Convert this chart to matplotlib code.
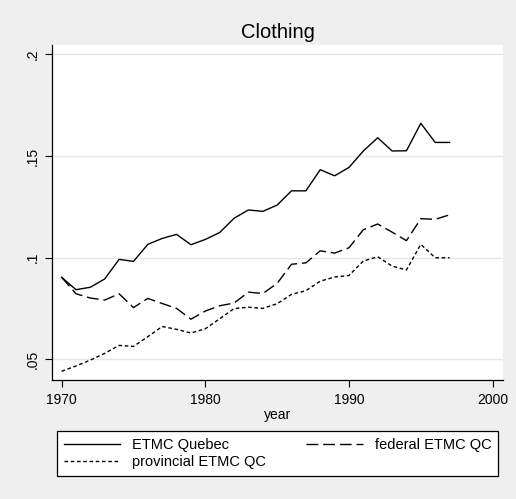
import numpy as np
import matplotlib.pyplot as plt

plt.rcParams['font.family'] = ['Liberation Sans', 'DejaVu Sans']

# annual series, 1970-1997
years = np.arange(1970, 1998)
etmc_quebec = [0.0904, 0.0843, 0.0855, 0.0896, 0.0992, 0.0982, 0.1066, 0.1095,
               0.1115, 0.1064, 0.1090, 0.1124, 0.1194, 0.1235, 0.1228, 0.1259,
               0.1329, 0.1329, 0.1433, 0.1403, 0.1444, 0.1525, 0.1590, 0.1525,
               0.1526, 0.1661, 0.1567, 0.1567]
federal_qc = [0.0904, 0.0823, 0.0802, 0.0792, 0.0823, 0.0755, 0.0800, 0.0775,
              0.0751, 0.0698, 0.0738, 0.0764, 0.0777, 0.0831, 0.0824, 0.0874,
              0.0968, 0.0975, 0.1034, 0.1023, 0.1049, 0.1138, 0.1166, 0.1126,
              0.1084, 0.1192, 0.1189, 0.1211]
provincial_qc = [0.0442, 0.0468, 0.0497, 0.0530, 0.0569, 0.0564, 0.0612, 0.0662,
                 0.0648, 0.0630, 0.0651, 0.0700, 0.0750, 0.0757, 0.0751, 0.0774,
                 0.0820, 0.0838, 0.0885, 0.0905, 0.0913, 0.0984, 0.1005, 0.0959,
                 0.0940, 0.1066, 0.1000, 0.1000]

y_ticks = [0.05, 0.1, 0.15, 0.2]
y_ticklabels = ['.05', '.1', '.15', '.2']
x_ticks = [1970, 1980, 1990, 2000]

W, H = 516, 499
fig = plt.figure(figsize=(W / 100, H / 100), dpi=100, facecolor='#efefef')
ax = fig.add_axes([52 / W, 1 - 380 / H, 451 / W, 335 / H])
ax.set_facecolor('white')

l_que, = ax.plot(years, etmc_quebec, color='black', lw=1.0, label='ETMC Quebec')
l_fed, = ax.plot(years, federal_qc, color='black', lw=1.0, dashes=(8.5, 3.5),
                 label='federal ETMC QC')
l_prov, = ax.plot(years, provincial_qc, color='black', lw=1.0, dashes=(2.6, 1.9),
                  label='provincial ETMC QC')

ax.set_xlim(1969.33, 2000.72)
ax.set_ylim(0.0399, 0.2046)
ax.set_yticks(y_ticks)
ax.set_yticklabels(y_ticklabels, rotation=90, va='center')
ax.set_xticks(x_ticks)
ax.yaxis.grid(True, color='#e6e6e6', lw=1.0)
ax.set_axisbelow(True)
ax.tick_params(labelsize=10, length=5, width=0.8, color='black', pad=4)

for side in ('top', 'right'):
    ax.spines[side].set_visible(False)
for side in ('left', 'bottom'):
    ax.spines[side].set_linewidth(0.9)

ax.set_xlabel('year', fontsize=10, labelpad=1)
fig.text(277.5 / W, 1 - 33 / H, 'Clothing', fontsize=14.5,
         ha='center', va='center')

# legend fills column-wise, so order entries to read row by row
handles = [l_que, l_prov, l_fed]
leg = fig.legend(handles, [h.get_label() for h in handles],
                 loc='lower left', ncol=2, mode='expand',
                 bbox_to_anchor=(57 / W, 1 - 476 / H, 441 / W, 49 / H),
                 borderaxespad=0, fontsize=10.5, handlelength=3.9,
                 handletextpad=0.8, fancybox=False, framealpha=1,
                 edgecolor='black', borderpad=0.45, labelspacing=0.25)
leg.get_frame().set_linewidth(0.9)

fig.savefig('out.png', dpi=100, facecolor=fig.get_facecolor())
